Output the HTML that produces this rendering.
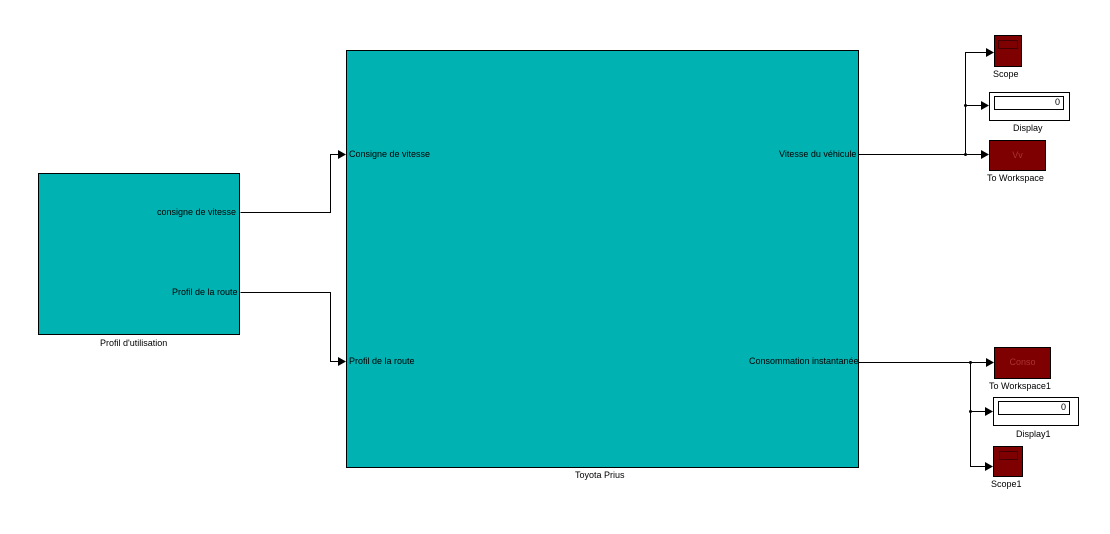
<!DOCTYPE html>
<html><head><style>
body{margin:0;background:#fff;width:1110px;height:534px;overflow:hidden;position:relative;font-family:"Liberation Sans",sans-serif;font-size:9px;color:#000}
.b{position:absolute;box-sizing:border-box}
.t{position:absolute;white-space:nowrap;font-size:9px}
</style></head><body>
<div class="b" style="left:38px;top:173px;width:202px;height:162px;background:#00b2b2;border:1px solid #000"></div>
<div class="t" style="left:157px;top:207px">consigne de vitesse</div>
<div class="t" style="left:172px;top:287px">Profil de la route</div>
<div class="t" style="left:100px;top:338px">Profil d'utilisation</div>

<div class="b" style="left:346px;top:50px;width:513px;height:418px;background:#00b2b2;border:1px solid #000"></div>
<div class="t" style="left:349px;top:149px">Consigne de vitesse</div>
<div class="t" style="left:349px;top:356px">Profil de la route</div>
<div class="t" style="left:779px;top:149px">Vitesse du véhicule</div>
<div class="t" style="left:749px;top:356px">Consommation instantanée</div>
<div class="t" style="left:575px;top:470px">Toyota Prius</div>

<div class="b" style="left:994px;top:35px;width:28px;height:32px;background:#7f0000;border:1px solid #000"><div class="b" style="left:3px;top:4px;width:20px;height:9px;border:1px solid #400"></div></div>
<div class="t" style="left:993px;top:69px">Scope</div>
<div class="b" style="left:989px;top:92px;width:81px;height:29px;background:#fff;border:1px solid #000"><div class="b" style="left:4px;top:3px;width:70px;height:14px;border:1px solid #000;text-align:right;padding-right:3px;font-size:9px">0</div></div>
<div class="t" style="left:1013px;top:123px">Display</div>
<div class="b" style="left:989px;top:140px;width:57px;height:31px;background:#7f0000;border:1px solid #000;color:#a33;text-align:center;line-height:28px">Vv</div>
<div class="t" style="left:987px;top:173px">To Workspace</div>

<div class="b" style="left:994px;top:347px;width:57px;height:32px;background:#7f0000;border:1px solid #000;color:#a33;text-align:center;line-height:28px">Conso</div>
<div class="t" style="left:989px;top:381px">To Workspace1</div>
<div class="b" style="left:993px;top:397px;width:86px;height:29px;background:#fff;border:1px solid #000"><div class="b" style="left:4px;top:3px;width:72px;height:14px;border:1px solid #000;text-align:right;padding-right:3px;font-size:9px">0</div></div>
<div class="t" style="left:1016px;top:429px">Display1</div>
<div class="b" style="left:993px;top:446px;width:30px;height:31px;background:#7f0000;border:1px solid #000"><div class="b" style="left:5px;top:4px;width:19px;height:9px;border:1px solid #400"></div></div>
<div class="t" style="left:991px;top:479px">Scope1</div>

<svg width="1110" height="534" style="position:absolute;left:0;top:0" fill="none" stroke="#000" stroke-width="1">
<polyline points="240.5,212.5 330.5,212.5 330.5,154.5 340,154.5"/>
<polyline points="240.5,292.5 330.5,292.5 330.5,361.5 340,361.5"/>
<polyline points="859,154.5 984,154.5"/>
<polyline points="965.5,155 965.5,52.5 988,52.5"/>
<polyline points="965.5,105.5 983,105.5"/>
<polyline points="859,362.5 988,362.5"/>
<polyline points="970.5,362 970.5,466.5 987,466.5"/>
<polyline points="970.5,411.5 987,411.5"/>
<g fill="#000" stroke="none">
<polygon points="346,154.5 338,150 338,159"/>
<polygon points="346,361.5 338,357 338,366"/>
<polygon points="994,52.5 986,48 986,57"/>
<polygon points="989,105.5 981,101 981,110"/>
<polygon points="989,154.5 981,150 981,159"/>
<polygon points="994,362.5 986,358 986,367"/>
<polygon points="993,411.5 985,407 985,416"/>
<polygon points="993,466.5 985,462 985,471"/>
<circle cx="965.5" cy="105.5" r="1.5"/><circle cx="965.5" cy="154.5" r="1.5"/>
<circle cx="970.5" cy="362.5" r="1.5"/><circle cx="970.5" cy="411.5" r="1.5"/>
</g>
</svg>
</body></html>
